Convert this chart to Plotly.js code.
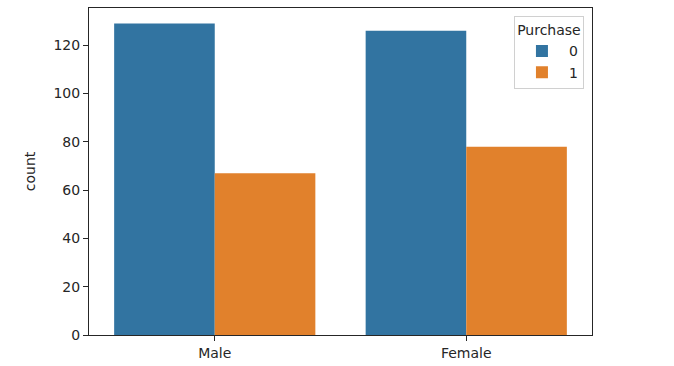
<!DOCTYPE html>
<html>
<head>
<meta charset="utf-8">
<script src="https://cdn.plot.ly/plotly-3.0.1.min.js"></script>
<style>html,body{margin:0;padding:0;background:#fff;}#chart{width:674px;height:366px;}</style>
</head>
<body>
<div id="chart"></div>
<script>
const categories = ["Male", "Female"];
const purchase0 = [129, 126];
const purchase1 = [67, 78];
const seriesNames = ["0", "1"];
const yTicks = [0, 20, 40, 60, 80, 100, 120];

const font = {family: "DejaVu Sans, sans-serif", size: 14, color: "#262626"};

const traces = [
  {type: "bar", x: categories, y: purchase0, name: seriesNames[0], marker: {color: "#3274a1"}},
  {type: "bar", x: categories, y: purchase1, name: seriesNames[1], marker: {color: "#e1812c"}}
];

const layout = {
  width: 674, height: 366,
  margin: {l: 89, r: 82, t: 8, b: 31, pad: 0},
  paper_bgcolor: "#fff", plot_bgcolor: "#fff",
  font: font,
  barmode: "group", bargap: 0.2, bargroupgap: 0,
  showlegend: true,
  legend: {
    title: {text: "Purchase", font: font, side: "top center"},
    x: 0.984, xanchor: "right", y: 0.975, yanchor: "top",
    bordercolor: "#d0d0d0", borderwidth: 1, bgcolor: "rgba(255,255,255,0.8)",
    font: font, tracegroupgap: 0, itemwidth: 44
  },
  xaxis: {
    type: "category", range: [-0.5, 1.5],
    showline: true, mirror: true, linecolor: "#262626", linewidth: 1,
    ticks: "outside", ticklen: 5, tickcolor: "#262626", showgrid: false, zeroline: false,
    tickfont: font
  },
  yaxis: {
    range: [0, 135.45], tickvals: yTicks, ticktext: yTicks.map(String),
    showline: true, mirror: true, linecolor: "#262626", linewidth: 1,
    ticks: "outside", ticklen: 5, tickcolor: "#262626", showgrid: false, zeroline: false,
    tickfont: font,
    title: {text: "count", font: font, standoff: 14}
  }
};

Plotly.newPlot("chart", traces, layout, {displayModeBar: false, staticPlot: true});
</script>
</body>
</html>
